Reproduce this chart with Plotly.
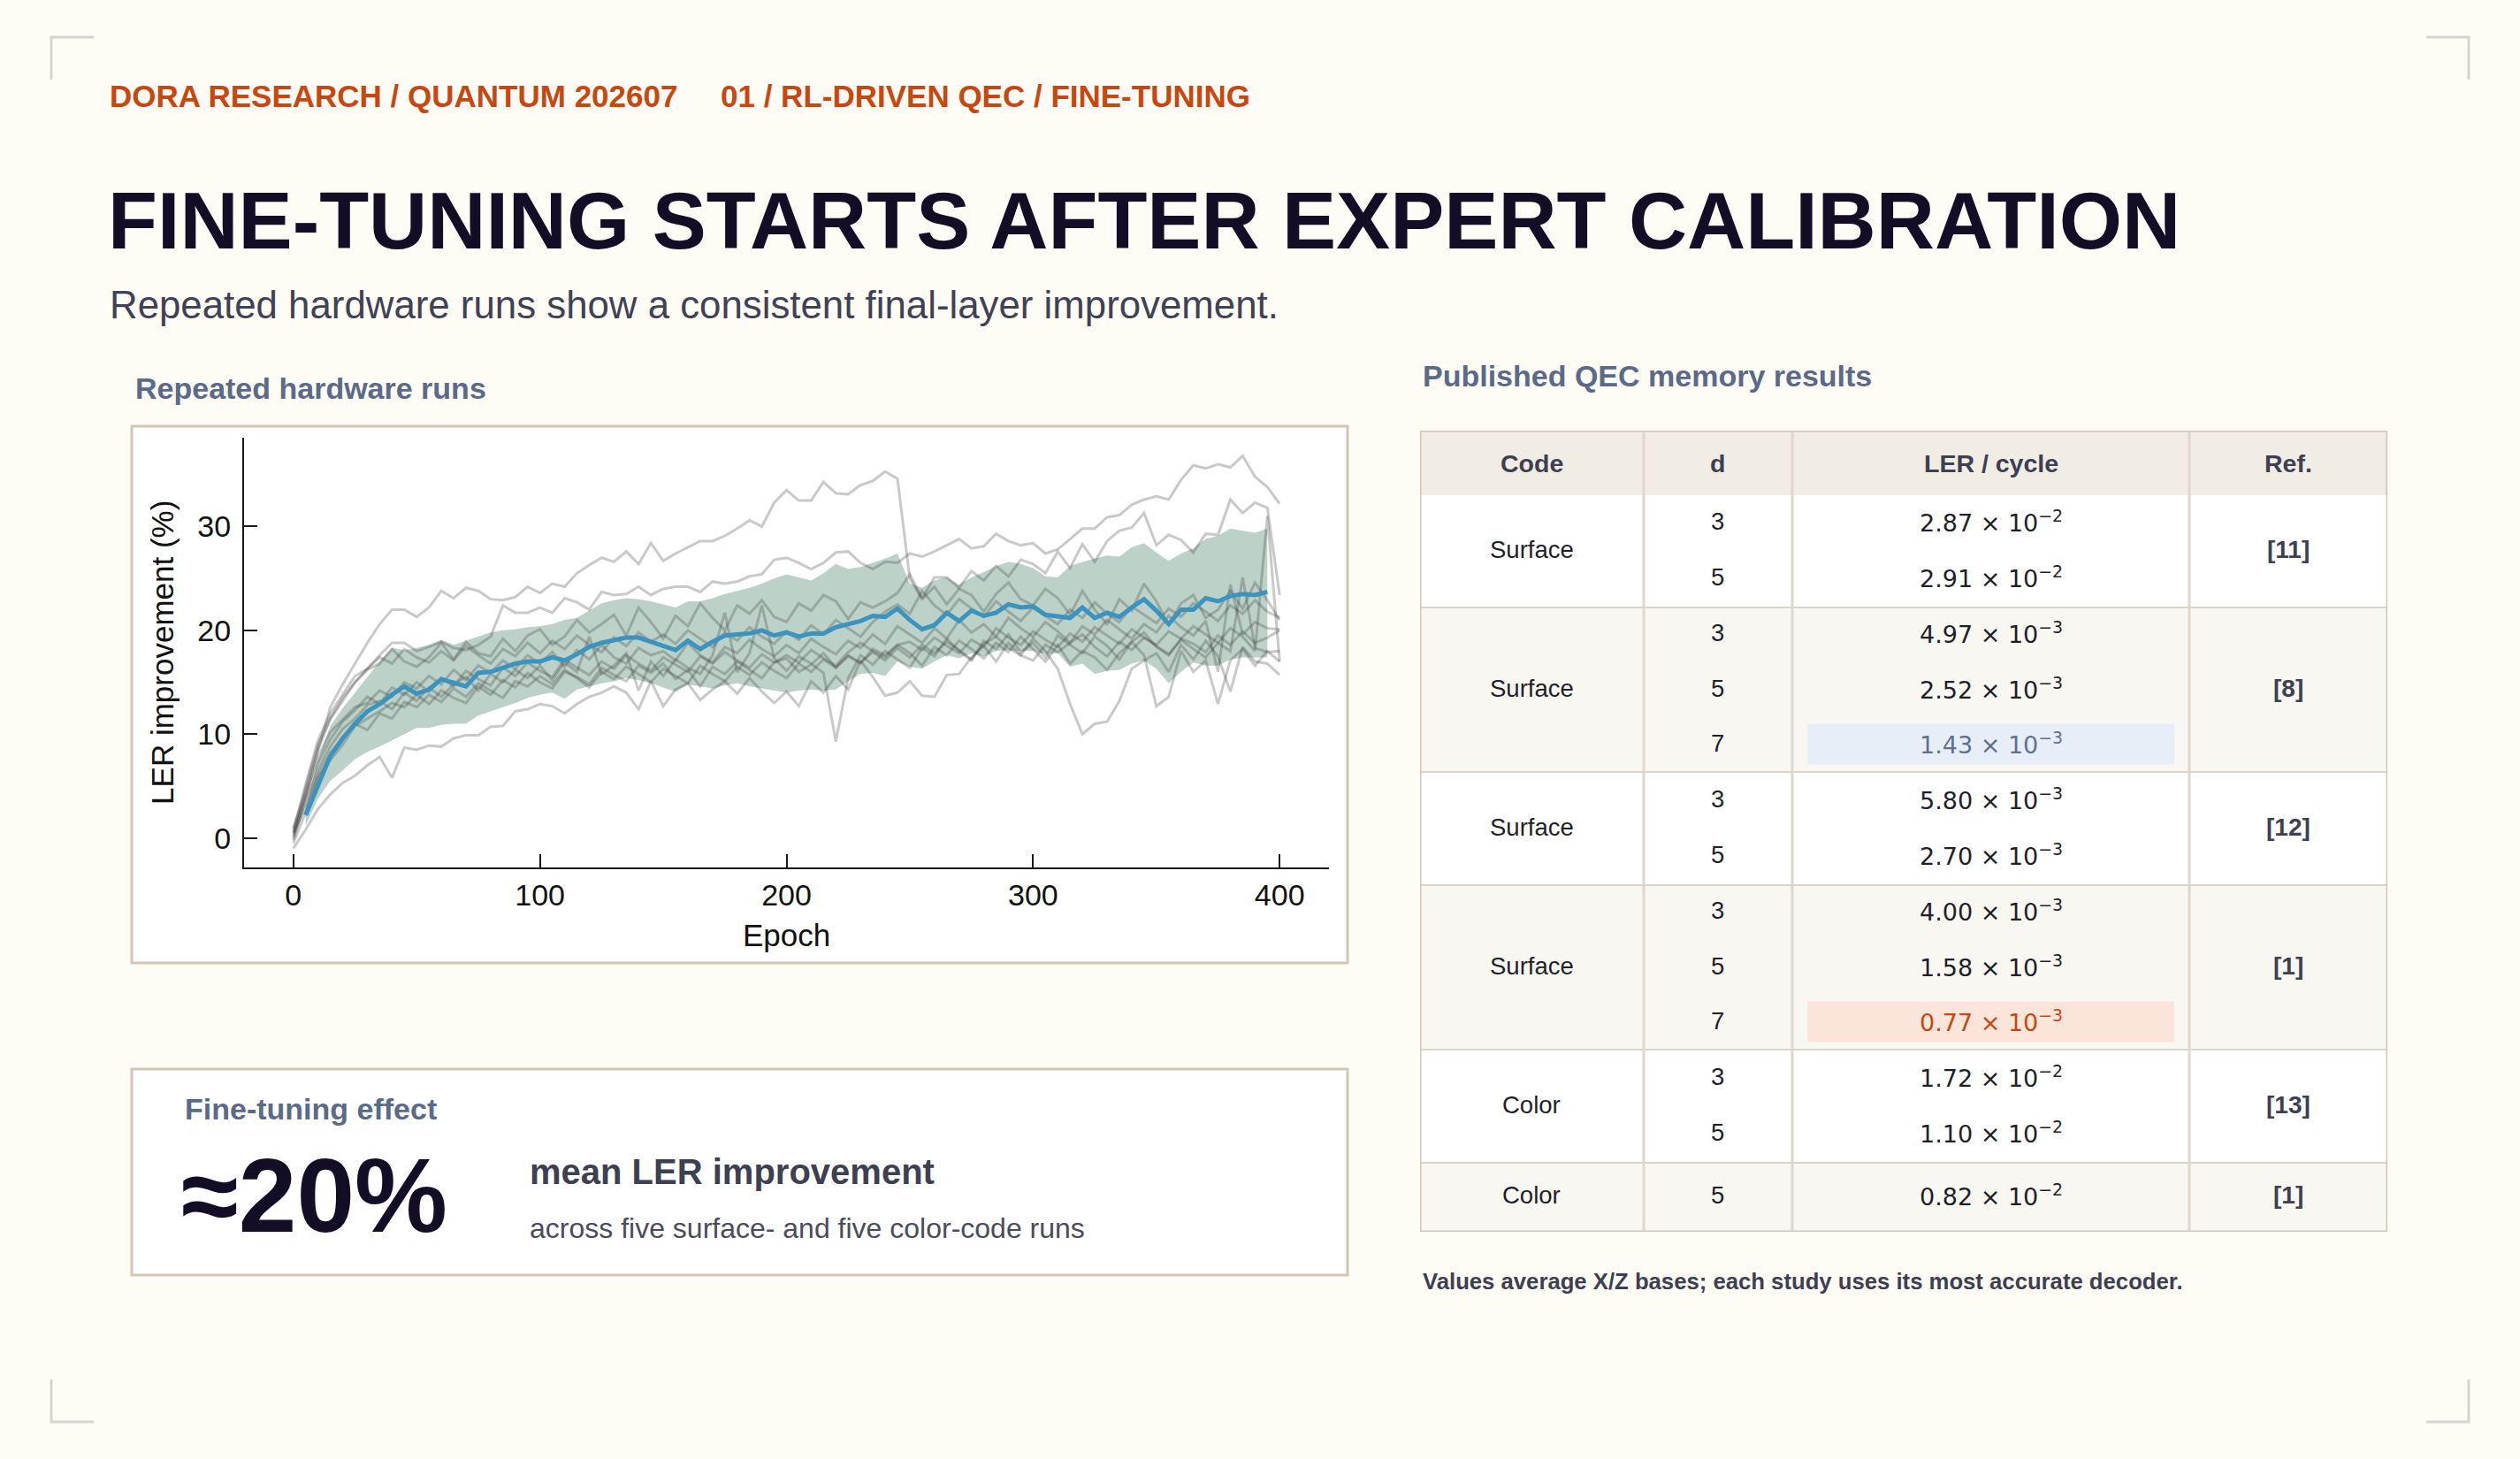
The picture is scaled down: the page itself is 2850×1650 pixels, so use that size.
import plotly.graph_objects as go

W, H = 2850, 1650

# ---- data -----------------------------------------------------------------
epochs = list(range(0, 401, 5))
mean_epochs = list(range(5, 396, 5))

mean_ler = [2.2, 5.0, 7.9, 9.6, 11.0, 12.2, 12.9, 13.8, 14.6,
            13.9, 14.3, 15.3, 15.0, 14.6, 15.9, 16.0, 16.4, 16.8, 17.0,
            17.0, 17.4, 17.1, 17.7, 18.4, 18.8, 19.1, 19.3, 19.3, 18.9,
            18.5, 18.1, 19.0, 18.2, 18.9, 19.5, 19.6, 19.7, 20.0, 19.5,
            19.8, 19.4, 19.7, 19.7, 20.3, 20.6, 20.9, 21.4, 21.3, 22.1,
            21.0, 20.1, 20.5, 21.7, 20.9, 21.9, 21.4, 21.7, 22.5, 22.2,
            22.3, 21.5, 21.3, 21.2, 22.2, 21.2, 21.7, 21.3, 22.2, 23.0,
            21.9, 20.6, 22.0, 22.0, 23.1, 22.8, 23.3, 23.5, 23.4, 23.7]

band_upper = [3.0, 7.5, 10.8, 12.5, 14.0, 15.5, 17.0, 18.3, 18.1,
              18.3, 18.6, 19.1, 18.6, 19.0, 19.4, 19.8, 20.0, 20.1, 20.3,
              20.4, 20.6, 21.0, 21.2, 21.9, 22.6, 22.9, 23.1, 23.0, 22.8,
              22.5, 22.2, 22.8, 22.8, 23.1, 23.5, 23.8, 24.1, 24.5, 25.0,
              25.4, 25.1, 24.8, 25.5, 26.4, 25.9, 26.1, 26.5, 26.9, 27.4,
              24.5, 24.1, 24.8, 25.1, 24.4, 25.1, 25.6, 26.2, 26.6, 26.4,
              26.0, 25.2, 25.1, 26.2, 26.6, 26.9, 27.2, 27.1, 28.0, 28.4,
              27.5, 26.7, 27.4, 27.9, 28.8, 29.1, 29.8, 29.6, 29.4, 29.8]

band_lower = [1.2, 3.8, 5.5, 6.5, 7.6, 8.3, 8.8, 9.4, 10.0,
              10.6, 10.6, 10.9, 11.0, 11.0, 11.8, 12.2, 12.6, 13.0, 13.5,
              13.8, 14.0, 13.4, 14.3, 14.6, 14.9, 15.1, 15.4, 15.2, 14.9,
              14.5, 14.1, 14.8, 14.6, 14.4, 14.7, 14.9, 14.6, 14.4, 14.2,
              14.0, 14.2, 14.3, 14.2, 14.3, 15.1, 15.8, 15.9, 15.6, 17.0,
              16.5, 16.3, 17.0, 17.6, 17.3, 17.8, 17.5, 18.0, 18.1, 18.0,
              18.0, 17.7, 17.8, 16.5, 16.8, 15.8, 16.1, 16.2, 16.8, 17.1,
              16.3, 14.9, 16.0, 16.9, 16.6, 16.6, 17.2, 17.4, 17.4, 17.4]

run_surface_1 = [0.5, 4.0, 8.5, 12.6, 14.8, 16.8, 18.8, 20.6, 22.0, 22.0,
                 21.3, 22.2, 23.8, 23.1, 24.1, 23.8, 23.0, 22.9, 23.2, 24.2,
                 23.6, 24.5, 24.2, 25.5, 26.3, 27.0, 26.6, 27.6, 26.4, 28.4,
                 26.7, 27.4, 28.0, 28.6, 28.6, 29.1, 29.8, 30.6, 30.0, 32.3,
                 33.5, 32.5, 32.5, 34.3, 33.2, 33.1, 34.0, 34.4, 35.3, 34.6,
                 25.0, 23.0, 24.2, 22.5, 24.0, 23.4, 21.8, 23.5, 24.6, 23.0,
                 22.4, 24.0, 23.1, 21.5, 23.8, 22.0, 20.6, 23.0, 21.9, 24.5,
                 22.8, 20.5, 22.6, 23.4, 21.2, 22.0, 23.8, 22.1, 24.6, 22.9,
                 21.0]
run_surface_2 = [0.0, 4.5, 8.5, 11.5, 13.2, 15.0, 16.3, 17.6, 18.8, 18.8,
                 18.0, 18.4, 18.9, 18.3, 18.1, 18.6, 19.4, 22.4, 21.7, 21.7,
                 22.2, 21.7, 23.1, 22.7, 22.0, 23.7, 23.4, 23.5, 24.2, 23.4,
                 24.0, 24.2, 24.2, 23.7, 24.7, 24.5, 24.7, 25.2, 25.4, 26.8,
                 27.0, 26.5, 25.9, 26.5, 27.5, 27.6, 26.5, 25.9, 26.6, 26.5,
                 27.4, 27.1, 27.6, 28.2, 28.8, 27.9, 28.1, 29.3, 28.6, 28.2,
                 28.4, 27.4, 27.8, 28.8, 29.8, 29.8, 30.9, 31.1, 32.1, 32.6,
                 32.9, 32.6, 34.5, 35.9, 35.6, 36.0, 35.7, 36.8, 34.8, 33.8,
                 32.2]
run_surface_3 = [0.8, 5.0, 9.0, 11.5, 13.5, 15.0, 16.2, 16.8, 18.2, 17.0,
                 16.5, 17.4, 18.8, 17.2, 18.9, 17.8, 17.5, 19.2, 18.0, 19.5,
                 20.1, 18.6, 19.4, 21.0, 19.8, 20.6, 21.5, 19.5, 22.2, 20.8,
                 19.2, 21.4, 20.4, 22.6, 21.2, 20.0, 22.4, 21.6, 22.9, 21.3,
                 20.8, 22.6, 21.9, 23.4, 22.8, 21.1, 22.7, 22.2, 22.8, 23.6,
                 25.4, 23.1, 25.1, 25.1, 24.1, 25.7, 24.8, 26.2, 25.2, 26.8,
                 26.4, 25.5, 27.6, 26.0, 28.3, 26.6, 28.6, 29.6, 29.9, 31.3,
                 28.2, 29.2, 28.7, 27.5, 29.3, 29.2, 32.6, 31.3, 32.3, 31.8,
                 23.4]
run_surface_4 = [-1.0, 0.8, 2.8, 4.2, 5.3, 6.0, 7.0, 7.8, 5.8, 8.7,
                 8.5, 8.9, 8.8, 9.6, 9.9, 9.9, 10.7, 10.8, 12.2, 12.4,
                 12.9, 12.7, 12.0, 12.9, 13.6, 14.0, 14.6, 14.0, 12.4, 15.1,
                 12.7, 14.3, 14.9, 13.3, 14.3, 15.1, 13.9, 15.4, 14.1, 13.0,
                 14.1, 12.7, 15.1, 14.0, 15.6, 14.3, 17.1, 15.5, 13.7, 14.0,
                 15.1, 13.7, 13.6, 15.7, 15.8, 17.4, 18.5, 17.0, 18.8, 17.6,
                 19.2, 18.0, 16.3, 12.9, 10.0, 11.0, 11.2, 13.2, 16.3, 17.1,
                 17.8, 16.0, 18.6, 17.2, 19.0, 17.5, 14.1, 18.4, 17.0, 16.8,
                 15.7]
run_surface_5 = [0.2, 3.5, 6.5, 8.8, 10.5, 11.5, 12.8, 13.2, 12.4, 14.0,
                 13.2, 14.5, 13.6, 14.8, 15.5, 14.2, 15.8, 15.0, 16.2, 15.4,
                 16.6, 15.2, 16.9, 16.0, 19.4, 15.8, 16.6, 17.8, 14.2, 17.0,
                 15.6, 17.2, 16.4, 15.8, 17.6, 21.7, 16.0, 17.8, 22.4, 17.3,
                 16.1, 17.5, 16.8, 15.9, 9.3, 15.4, 17.6, 16.7, 18.0, 17.2,
                 16.4, 18.3, 17.5, 19.2, 18.0, 17.1, 19.0, 18.2, 19.6, 17.9,
                 18.8, 17.4, 19.5, 18.6, 17.8, 19.4, 18.5, 17.2, 18.9, 19.8,
                 18.4, 17.6, 19.2, 18.7, 17.9, 19.5, 18.6, 19.9, 18.8, 19.3,
                 20.0]
run_color_1 = [-0.5, 2.5, 5.8, 7.5, 9.0, 10.8, 11.5, 12.2, 13.0, 12.6,
               13.8, 12.9, 14.2, 13.5, 13.0, 14.6, 13.8, 15.2, 14.5, 15.9,
               15.0, 14.4, 16.0, 15.5, 14.8, 16.4, 15.7, 15.1, 16.6, 15.9,
               16.8, 15.3, 16.2, 14.6, 16.5, 15.8, 17.0, 16.2, 15.4, 16.9,
               17.3, 16.0, 16.7, 17.8, 16.4, 17.5, 16.8, 18.2, 17.6, 18.6,
               17.8, 16.6, 18.4, 17.6, 19.0, 18.2, 17.3, 18.8, 17.9, 19.4,
               18.2, 17.0, 18.6, 16.8, 18.0, 17.4, 16.2, 17.8, 18.9, 17.6,
               12.7, 13.6, 18.0, 16.0, 17.1, 12.9, 17.1, 18.2, 16.6, 18.0,
               17.0]
run_color_2 = [1.0, 4.2, 7.8, 10.2, 11.4, 12.6, 13.0, 14.2, 13.6, 15.0,
               14.4, 15.6, 14.8, 16.2, 15.2, 16.6, 15.9, 17.1, 16.3, 17.6,
               16.8, 17.9, 16.5, 18.1, 17.2, 18.6, 17.4, 16.8, 18.3, 17.6,
               18.0, 17.1, 18.8, 17.6, 16.9, 18.4, 17.8, 19.1, 18.2, 17.5,
               18.6, 17.8, 19.2, 18.4, 17.7, 19.0, 18.3, 19.6, 18.7, 20.4,
               19.6, 18.8, 20.2, 19.2, 21.0, 19.8, 20.6, 19.4, 21.2, 20.2,
               19.4, 20.8, 19.9, 18.8, 20.4, 19.6, 21.0, 20.1, 19.2, 20.6,
               19.8, 21.4, 20.3, 19.5, 20.9, 16.0, 24.4, 19.6, 20.8, 20.2,
               20.1]
run_color_3 = [0.4, 3.0, 6.0, 8.2, 9.6, 11.0, 10.4, 12.0, 11.5, 13.1,
               12.6, 13.8, 13.1, 14.4, 13.6, 14.9, 14.2, 13.5, 15.1, 14.6,
               15.6, 14.8, 16.2, 15.4, 14.5, 16.0, 15.3, 16.5, 15.8, 15.0,
               16.3, 15.6, 14.9, 16.6, 15.8, 15.1, 16.5, 15.7, 16.9, 16.1,
               15.4, 16.8, 16.0, 17.2, 16.4, 17.6, 16.9, 17.9, 17.1, 18.3,
               17.4, 18.6, 17.8, 18.9, 18.1, 17.2, 18.7, 19.4, 18.3, 17.6,
               17.1, 18.6, 17.9, 18.8, 19.6, 18.4, 17.5, 18.9, 18.1, 19.3,
               18.5, 17.7, 19.1, 18.2, 17.4, 18.8, 18.0, 25.1, 18.3, 17.9,
               18.0]
run_color_4 = [0.6, 5.2, 9.4, 12.0, 13.8, 15.6, 16.3, 17.4, 16.8, 18.2,
               17.4, 16.9, 18.0, 17.1, 18.5, 17.6, 16.8, 18.2, 17.5, 18.8,
               17.8, 19.0, 18.2, 19.5, 18.6, 17.9, 19.3, 18.5, 19.8, 18.9,
               19.6, 18.7, 20.0, 19.2, 18.4, 19.8, 19.0, 20.3, 19.4, 18.7,
               19.9, 19.1, 20.5, 19.6, 21.0, 20.2, 19.4, 20.8, 21.8, 22.5,
               21.6, 23.8, 22.4, 21.5, 23.0, 22.1, 21.3, 22.8, 21.8, 20.9,
               22.2, 21.4, 20.6, 22.0, 21.2, 22.7, 21.6, 20.8, 22.3, 21.5,
               20.7, 22.1, 21.3, 22.6, 21.8, 20.9, 22.4, 21.6, 22.9, 21.8,
               21.2]
run_color_5 = [-0.2, 3.8, 7.2, 9.5, 11.2, 12.3, 13.6, 12.9, 14.5, 13.8,
               15.0, 14.1, 15.4, 14.6, 16.1, 15.3, 14.7, 16.4, 15.6, 16.9,
               16.1, 15.5, 17.2, 16.4, 15.7, 17.0, 16.3, 17.6, 16.8, 16.1,
               17.4, 16.7, 16.0, 17.5, 16.8, 17.9, 17.1, 16.4, 17.7, 16.9,
               17.6, 16.9, 18.1, 17.3, 16.6, 17.9, 18.8, 18.0, 17.4, 18.6,
               18.9, 18.1, 19.3, 18.5, 17.8, 19.1, 18.4, 20.2, 19.3, 18.6,
               19.9, 19.1, 18.4, 19.7, 18.9, 20.3, 19.5, 18.7, 20.1, 19.3,
               18.6, 19.9, 19.2, 20.4, 19.6, 18.8, 20.2, 19.4, 18.0, 31.0,
               17.0]

x_ticks = [0, 100, 200, 300, 400]
y_ticks = [0, 10, 20, 30]

table_header = ["Code", "d", "LER / cycle", "Ref."]
table_codes = ["Surface", "Surface", "Surface", "Surface", "Color", "Color"]
table_d = [[3, 5], [3, 5, 7], [3, 5], [3, 5, 7], [3, 5], [5]]
table_ler_mantissa = [[2.87, 2.91], [4.97, 2.52, 1.43], [5.80, 2.70],
                      [4.00, 1.58, 0.77], [1.72, 1.10], [0.82]]
table_ler_exponent = [[-2, -2], [-3, -3, -3], [-3, -3], [-3, -3, -3], [-2, -2], [-2]]
table_refs = ["[11]", "[8]", "[12]", "[1]", "[13]", "[1]"]
highlight_blue = (1, 2)     # (group, row) shown in blue
highlight_orange = (3, 2)   # (group, row) shown in orange

# ---- style ----------------------------------------------------------------
SANS = "Liberation Sans, Arial, sans-serif"
MATH = "DejaVu Sans, sans-serif"
BG = "#fffcf6"
INK = "#130d26"
ORANGE = "#c9470e"
SLATE = "#5a6a88"
TEXT = "#3d3f52"
TAN = "#d3c6b6"
GRID = "#ddd7ce"


def px(x):
    return x / W


def py(y):
    return 1 - y / H


fig = go.Figure()

# band, runs, mean
fig.add_trace(go.Scatter(
    x=mean_epochs + mean_epochs[::-1], y=band_upper + band_lower[::-1],
    fill="toself", fillcolor="rgba(122,166,145,0.5)", line=dict(width=0),
    mode="lines", hoverinfo="skip", showlegend=False))

runs = [run_surface_1, run_surface_2, run_surface_3, run_surface_4, run_surface_5,
        run_color_1, run_color_2, run_color_3, run_color_4, run_color_5]
for run in runs:
    fig.add_trace(go.Scatter(
        x=epochs, y=run, mode="lines", line=dict(color="rgba(55,55,55,0.27)", width=3),
        hoverinfo="skip", showlegend=False))

fig.add_trace(go.Scatter(
    x=mean_epochs, y=mean_ler, mode="lines", line=dict(color="#3b93bf", width=5),
    hoverinfo="skip", showlegend=False))

# ---- table (own axes, units = pixels from table top-left) ------------------
col_w = [253, 168, 449, 224]
col_edges = [0]
for w in col_w:
    col_edges.append(col_edges[-1] + w)
col_mid = [(a + b) / 2 for a, b in zip(col_edges[:-1], col_edges[1:])]
header_h = 73
row_pitch = 62.5

group_top, group_h = [], []
y = header_h
for ds in table_d:
    h = max(len(ds) * 58 + 12, 77)
    group_top.append(y)
    group_h.append(h)
    y += h
table_w, table_h = col_edges[-1], y

shapes = []
cell_notes = []


def cell_text(x, y, text, color="#1e1f2b", size=27.5, family=SANS):
    cell_notes.append(dict(xref="x2", yref="y2", x=x, y=y, text=text, showarrow=False,
                           xanchor="center", yanchor="middle",
                           font=dict(family=family, size=size, color=color)))


shapes.append(dict(type="rect", xref="x2", yref="y2", x0=0, x1=table_w, y0=0, y1=header_h,
                   fillcolor="#f1ece4", line_width=0, layer="below"))
for c, name in enumerate(table_header):
    cell_text(col_mid[c], header_h / 2, f"<b>{name}</b>", TEXT, 28.5)

for g, ds in enumerate(table_d):
    top, h = group_top[g], group_h[g]
    mid = top + h / 2
    shapes.append(dict(type="rect", xref="x2", yref="y2", x0=0, x1=table_w, y0=top, y1=top + h,
                       fillcolor="#ffffff" if g % 2 == 0 else "#f9f7f2", line_width=0, layer="below"))
    cell_text(col_mid[0], mid - 3, table_codes[g])
    cell_text(col_mid[3], mid - 3, f"<b>{table_refs[g]}</b>", TEXT, 28)
    for r, d in enumerate(ds):
        ry = mid + (r - (len(ds) - 1) / 2) * row_pitch - 3
        color = "#1e1f2b"
        if (g, r) in (highlight_blue, highlight_orange):
            fill = "#e7eef7" if (g, r) == highlight_blue else "#fbe5da"
            color = "#5f7090" if (g, r) == highlight_blue else ORANGE
            shapes.append(dict(type="rect", xref="x2", yref="y2",
                               x0=col_edges[2] + 17, x1=col_edges[3] - 17, y0=ry - 22, y1=ry + 24,
                               fillcolor=fill, line_width=0, layer="below"))
        cell_text(col_mid[1], ry, str(d))
        m, e = table_ler_mantissa[g][r], table_ler_exponent[g][r]
        cell_text(col_mid[2], ry, f"{m:.2f} × 10<sup>−{abs(e)}</sup>", color, 27, MATH)
    if g < len(table_d) - 1:
        shapes.append(dict(type="line", xref="x2", yref="y2", x0=0, x1=table_w,
                           y0=top + h, y1=top + h, line=dict(color="#dad3c9", width=4), layer="below"))

for xe in col_edges[1:-1]:
    shapes.append(dict(type="line", xref="x2", yref="y2", x0=xe, x1=xe, y0=0, y1=table_h,
                       line=dict(color=GRID, width=3), layer="below"))
shapes.append(dict(type="rect", xref="x2", yref="y2", x0=0, x1=table_w, y0=0, y1=table_h,
                   line=dict(color=TAN, width=3), layer="below"))

# ---- panels and corner marks -----------------------------------------------
panel_shapes = [
    dict(type="rect", xref="paper", yref="paper", x0=px(149), x1=px(1524), y0=py(1089), y1=py(482),
         fillcolor="#ffffff", line=dict(color=TAN, width=3), layer="below"),
    dict(type="rect", xref="paper", yref="paper", x0=px(149), x1=px(1524), y0=py(1442), y1=py(1209),
         fillcolor="#ffffff", line=dict(color=TAN, width=3), layer="below"),
]
arm = 48
for cx, cy, sx, sy in [(58, 42, 1, 1), (W - 58, 42, -1, 1), (58, H - 42, 1, -1), (W - 58, H - 42, -1, -1)]:
    panel_shapes.append(dict(type="path", xref="paper", yref="paper",
                             path=f"M {px(cx + sx * arm)},{py(cy)} L {px(cx)},{py(cy)} L {px(cx)},{py(cy + sy * arm)}",
                             line=dict(color="#d9d4cb", width=3)))

# ---- text ------------------------------------------------------------------
def note(x, y, text, size, color, bold=False, family=SANS):
    return dict(xref="paper", yref="paper", x=px(x), y=py(y), xanchor="left", yanchor="middle",
                showarrow=False, text=f"<b>{text}</b>" if bold else text,
                font=dict(family=family, size=size, color=color))


annotations = [
    note(122, 109, "DORA RESEARCH / QUANTUM 202607", 35, ORANGE, True),
    note(813, 109, "01 / RL-DRIVEN QEC / FINE-TUNING", 35, ORANGE, True),
    note(120, 249, "FINE-TUNING STARTS AFTER EXPERT CALIBRATION", 91.6, INK, True),
    note(122, 344, "Repeated hardware runs show a consistent final-layer improvement.", 43.8, "#3f4156"),
    note(151, 439, "Repeated hardware runs", 34, SLATE, True),
    note(1607, 425, "Published QEC memory results", 34, SLATE, True),
    note(207, 1254, "Fine-tuning effect", 34, SLATE, True),
    note(203, 1352, "≈20%", 118, INK, True),
    note(597, 1325, "mean LER improvement", 40, TEXT, True),
    note(597, 1389, "across five surface- and five color-code runs", 32, "#4a4c5e"),
    note(1607, 1449, "Values average X/Z bases; each study uses its most accurate decoder.", 25.7, TEXT, True),
]

axis_font = dict(family=SANS, size=34, color="#111111")
fig.update_layout(
    width=W, height=H, margin=dict(l=0, r=0, t=0, b=0),
    paper_bgcolor=BG, plot_bgcolor="#ffffff", showlegend=False,
    shapes=panel_shapes + shapes, annotations=annotations + cell_notes,
    xaxis=dict(domain=[px(276), px(1503)], range=[-20, 420], anchor="y",
               showline=True, linecolor="#1a1a1a", linewidth=2, mirror=False,
               ticks="inside", ticklen=15, tickwidth=2, tickcolor="#1a1a1a",
               tickvals=x_ticks, tickfont=axis_font, ticklabelstandoff=0,
               showgrid=False, zeroline=False,
               title=dict(text="Epoch", font=dict(family=SANS, size=35, color="#111111"), standoff=16)),
    yaxis=dict(domain=[py(981), py(494.5)], range=[-2.84, 38.6], anchor="x",
               showline=True, linecolor="#1a1a1a", linewidth=2, mirror=False,
               ticks="inside", ticklen=15, tickwidth=2, tickcolor="#1a1a1a",
               tickvals=y_ticks, tickfont=axis_font, ticklabelstandoff=6,
               showgrid=False, zeroline=False,
               title=dict(text="LER improvement (%)", font=dict(family=SANS, size=35, color="#111111"),
                          standoff=16)),
    xaxis2=dict(domain=[px(1606), px(1606 + table_w)], range=[0, table_w], anchor="y2", visible=False),
    yaxis2=dict(domain=[py(487 + table_h), py(487)], range=[table_h, 0], anchor="x2", visible=False),
)

fig.write_html("out.html", config={"displayModeBar": False},
               post_script="document.body.style.margin='0px';")
